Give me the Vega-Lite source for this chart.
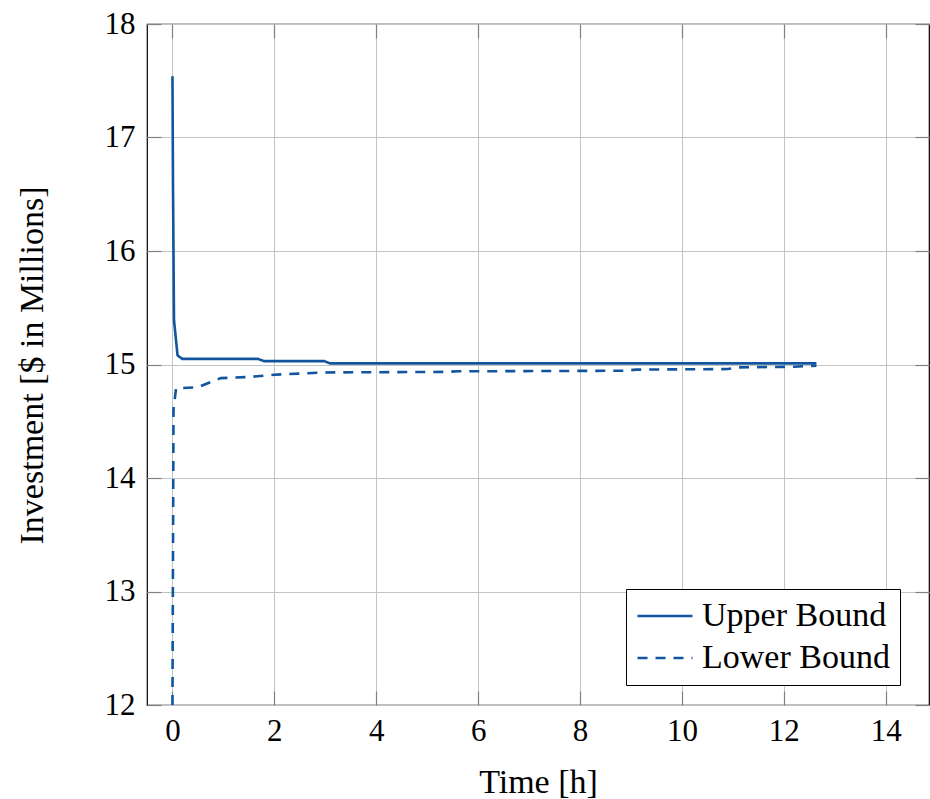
{
  "$schema": "https://vega.github.io/schema/vega-lite/v6.json",
  "width": 782,
  "height": 681,
  "autosize": "none",
  "padding": {"left": 147, "top": 24, "right": 1, "bottom": 94},
  "background": "white",
  "config": {
    "font": "Liberation Serif",
    "view": {"stroke": "black", "strokeWidth": 1.2},
    "axis": {
      "labelColor": "black",
      "titleColor": "black",
      "gridColor": "#c4c4c4",
      "gridWidth": 1,
      "tickColor": "#808080",
      "tickWidth": 1.2,
      "domain": false,
      "labelFontSize": 31,
      "titleFontSize": 34,
      "titleFontWeight": "normal"
    }
  },
  "data": {
    "values": [
      {"t": 0, "v": 17.54, "series": "Upper Bound"},
      {"t": 0.01, "v": 16.6, "series": "Upper Bound"},
      {"t": 0.03, "v": 15.39, "series": "Upper Bound"},
      {"t": 0.1, "v": 15.08, "series": "Upper Bound"},
      {"t": 0.19, "v": 15.05, "series": "Upper Bound"},
      {"t": 1.67, "v": 15.05, "series": "Upper Bound"},
      {"t": 1.8, "v": 15.03, "series": "Upper Bound"},
      {"t": 2.98, "v": 15.03, "series": "Upper Bound"},
      {"t": 3.09, "v": 15.01, "series": "Upper Bound"},
      {"t": 12.64, "v": 15.01, "series": "Upper Bound"},
      {"t": 0, "v": 12.0, "series": "Lower Bound"},
      {"t": 0.02, "v": 14.6, "series": "Lower Bound"},
      {"t": 0.07, "v": 14.79, "series": "Lower Bound"},
      {"t": 0.5, "v": 14.8, "series": "Lower Bound"},
      {"t": 0.95, "v": 14.88, "series": "Lower Bound"},
      {"t": 1.5, "v": 14.89, "series": "Lower Bound"},
      {"t": 2.0, "v": 14.91, "series": "Lower Bound"},
      {"t": 2.75, "v": 14.925, "series": "Lower Bound"},
      {"t": 3.0, "v": 14.93, "series": "Lower Bound"},
      {"t": 5.4, "v": 14.935, "series": "Lower Bound"},
      {"t": 5.6, "v": 14.94, "series": "Lower Bound"},
      {"t": 8.9, "v": 14.945, "series": "Lower Bound"},
      {"t": 9.1, "v": 14.955, "series": "Lower Bound"},
      {"t": 10.9, "v": 14.96, "series": "Lower Bound"},
      {"t": 11.1, "v": 14.975, "series": "Lower Bound"},
      {"t": 12.2, "v": 14.98, "series": "Lower Bound"},
      {"t": 12.64, "v": 14.99, "series": "Lower Bound"}
    ]
  },
  "layer": [
    {
      "mark": {"type": "line", "color": "#10559d", "strokeWidth": 2.6, "clip": true},
      "encoding": {
        "x": {
          "field": "t", "type": "quantitative",
          "scale": {"domain": [-0.5, 14.85], "nice": false, "zero": false},
          "axis": {
            "orient": "bottom", "values": [0, 2, 4, 6, 8, 10, 12, 14],
            "title": "Time [h]", "tickSize": -14, "labelPadding": 25,
            "titleBaseline": "alphabetic", "titleY": 87
          }
        },
        "y": {
          "field": "v", "type": "quantitative",
          "scale": {"domain": [12, 18], "nice": false, "zero": false},
          "axis": {
            "orient": "left", "values": [12, 13, 14, 15, 16, 17, 18],
            "title": "Investment [$ in Millions]", "tickSize": -14, "labelPadding": 26,
            "titleBaseline": "alphabetic", "titleX": -105, "titleY": 341
          }
        },
        "strokeDash": {
          "field": "series", "type": "nominal",
          "scale": {"domain": ["Upper Bound", "Lower Bound"], "range": [[1, 0], [10, 8]]},
          "legend": {
            "title": null, "orient": "none", "legendX": 479, "legendY": 565,
            "fillColor": "white", "strokeColor": "black", "padding": 10,
            "labelFontSize": 34, "labelColor": "black", "labelOffset": 20,
            "symbolType": "M-5,0H5", "symbolSize": 121, "symbolStrokeWidth": 2.6,
            "symbolOffset": 12,
            "symbolStrokeColor": "#10559d", "rowPadding": 8, "labelLimit": 400
          }
        },
        "detail": {"field": "series"}
      }
    },
    {
      "mark": {"type": "line", "opacity": 0},
      "encoding": {
        "x": {
          "field": "t", "type": "quantitative",
          "axis": {
            "orient": "top", "values": [0, 2, 4, 6, 8, 10, 12, 14],
            "title": null, "labels": false, "grid": false, "tickSize": -14
          }
        },
        "y": {
          "field": "v", "type": "quantitative",
          "axis": {
            "orient": "right", "values": [12, 13, 14, 15, 16, 17, 18],
            "title": null, "labels": false, "grid": false, "tickSize": -14
          }
        },
        "detail": {"field": "series"}
      }
    }
  ],
  "resolve": {"axis": {"x": "independent", "y": "independent"}}
}
